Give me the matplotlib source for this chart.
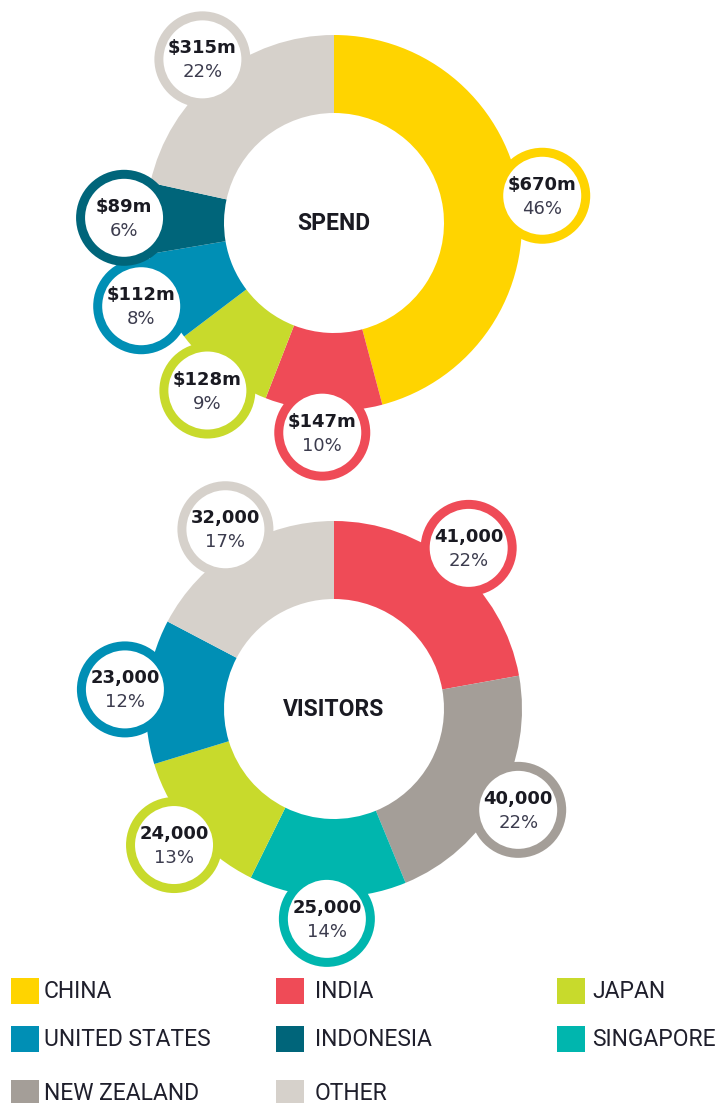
import matplotlib.pyplot as plt
import numpy as np
from matplotlib.patches import Circle, Rectangle

# Colours per country
country_colors = {
    'CHINA': '#FFD400',
    'INDIA': '#EF4B57',
    'JAPAN': '#C8DA2C',
    'UNITED STATES': '#008FB5',
    'INDONESIA': '#00657A',
    'SINGAPORE': '#00B6AE',
    'NEW ZEALAND': '#A49E98',
    'OTHER': '#D6D1CB',
}

# Spend donut
spend_countries = ['CHINA', 'INDIA', 'JAPAN', 'UNITED STATES', 'INDONESIA', 'OTHER']
spend_values = [670, 147, 128, 112, 89, 315]
spend_labels = ['$670m', '$147m', '$128m', '$112m', '$89m', '$315m']
spend_pcts = ['46%', '10%', '9%', '8%', '6%', '22%']

# Visitors donut
visitor_countries = ['INDIA', 'NEW ZEALAND', 'SINGAPORE', 'JAPAN', 'UNITED STATES', 'OTHER']
visitor_values = [41000, 40000, 25000, 24000, 23000, 32000]
visitor_labels = ['41,000', '40,000', '25,000', '24,000', '23,000', '32,000']
visitor_pcts = ['22%', '22%', '14%', '13%', '12%', '17%']

legend_order = ['CHINA', 'INDIA', 'JAPAN', 'UNITED STATES', 'INDONESIA', 'SINGAPORE',
                'NEW ZEALAND', 'OTHER']

W, H = 722, 1103
fig = plt.figure(figsize=(W / 100, H / 100), dpi=100)
ax = fig.add_axes([0, 0, 1, 1])

LEG_FONT = ['Roboto', 'DejaVu Sans']
BUB_FONT = ['DejaVu Sans']
R_OUT, R_IN = 188, 110
BUBBLE_R, BUBBLE_RING = 48, 9
BUBBLE_DIST = 210


def donut(center, countries, values, labels, pcts, title):
    cols = [country_colors[c] for c in countries]
    ax.pie(values, colors=cols, startangle=90, counterclock=False, radius=R_OUT,
           center=center, wedgeprops=dict(width=R_OUT - R_IN, linewidth=0))
    ax.text(center[0], center[1], title, ha='center', va='center', fontsize=16.5,
            fontweight='bold', family=LEG_FONT, color='#1a1a22')

    # bubbles at the middle angle of each slice
    total = float(sum(values))
    cum = np.cumsum([0] + list(values))
    for i, c in enumerate(countries):
        mid = (cum[i] + values[i] / 2) / total * 360
        ang = np.deg2rad(90 - mid)
        bx = center[0] + BUBBLE_DIST * np.cos(ang)
        by = center[1] + BUBBLE_DIST * np.sin(ang)
        ax.add_patch(Circle((bx, by), BUBBLE_R, facecolor=cols[i], edgecolor='none', zorder=3))
        ax.add_patch(Circle((bx, by), BUBBLE_R - BUBBLE_RING, facecolor='white',
                            edgecolor='none', zorder=4))
        ax.text(bx, by + 11, labels[i], ha='center', va='center', fontsize=13,
                fontweight='bold', family=BUB_FONT, color='#1a1a22', zorder=5)
        ax.text(bx, by - 13, pcts[i], ha='center', va='center', fontsize=13,
                family=BUB_FONT, color='#3c3c4e', zorder=5)


donut((334, H - 223), spend_countries, spend_values, spend_labels, spend_pcts, 'SPEND')
donut((334, H - 709), visitor_countries, visitor_values, visitor_labels, visitor_pcts, 'VISITORS')

# Legend in a 3-column grid
col_x = [11, 276, 557]
text_gap = [5, 11, 7]
row_y = [H - 991, H - 1039, H - 1093]
sq = 28
for k, name in enumerate(legend_order):
    c = k % 3
    x0 = col_x[c]
    y0 = row_y[k // 3]
    ax.add_patch(Rectangle((x0, y0 - 13), sq, 26, facecolor=country_colors[name],
                           edgecolor='none'))
    ax.text(x0 + sq + text_gap[c], y0, name, ha='left', va='center',
            fontsize=16.5, family=LEG_FONT, color='#1f1f2c')

ax.set_xlim(0, W)
ax.set_ylim(0, H)
ax.set_aspect('equal')
ax.axis('off')

fig.savefig('out.png', dpi=100, facecolor='white')
